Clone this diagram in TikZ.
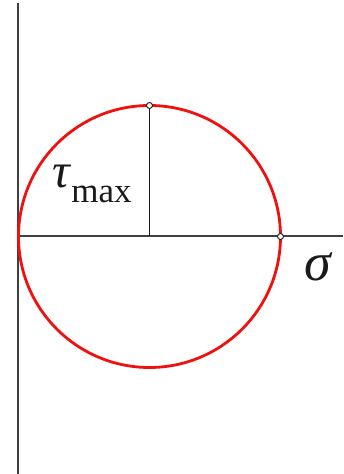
\documentclass[tikz,border=0pt]{standalone}
\usepackage{fontspec}
\setmainfont{Liberation Serif}
\usetikzlibrary{positioning}
\definecolor{ink}{HTML}{1A1A1A}
\definecolor{axisgray}{HTML}{404040}
\definecolor{mohrred}{HTML}{F01010}
\begin{document}
\begin{tikzpicture}[
  x=1pt,y=1pt,
  axis/.style={draw=axisgray,line width=2pt},
  mohr/.style={draw=mohrred,line width=2.8pt},
  radline/.style={draw=ink,line width=1.3pt},
  pin/.style={circle,draw=ink,fill=white,line width=.9pt,minimum size=6pt,inner sep=0pt},
  label/.style={text=ink,inner sep=0pt}
]
  \useasboundingbox (0,0) rectangle (343,474);

  \coordinate (ybot) at (18,0);
  \coordinate (ytop) at (18,471);
  \coordinate (origin) at (18,237.5);
  \coordinate (xend) at (343,237.5);
  \coordinate (center) at (149.5,237.5);

  \draw[axis] (ybot) -- (ytop);
  \draw[axis] (origin) -- (xend);
  \draw[mohr] (center) circle[radius=131pt];

  \node[pin] (peak) at (149.5,368.5) {};
  \node[pin] (edge) at (280.5,237.5) {};
  \draw[radline] (peak) -- (center);

  \node[label] (taumax) at (92,290) {\fontsize{49}{49}\selectfont\textit{τ}\raisebox{-.3em}{\fontsize{35}{35}\selectfont max}};
  \node[label] (sigma) at (319,207) {\fontsize{54}{54}\selectfont\textit{σ}};
\end{tikzpicture}
\end{document}
